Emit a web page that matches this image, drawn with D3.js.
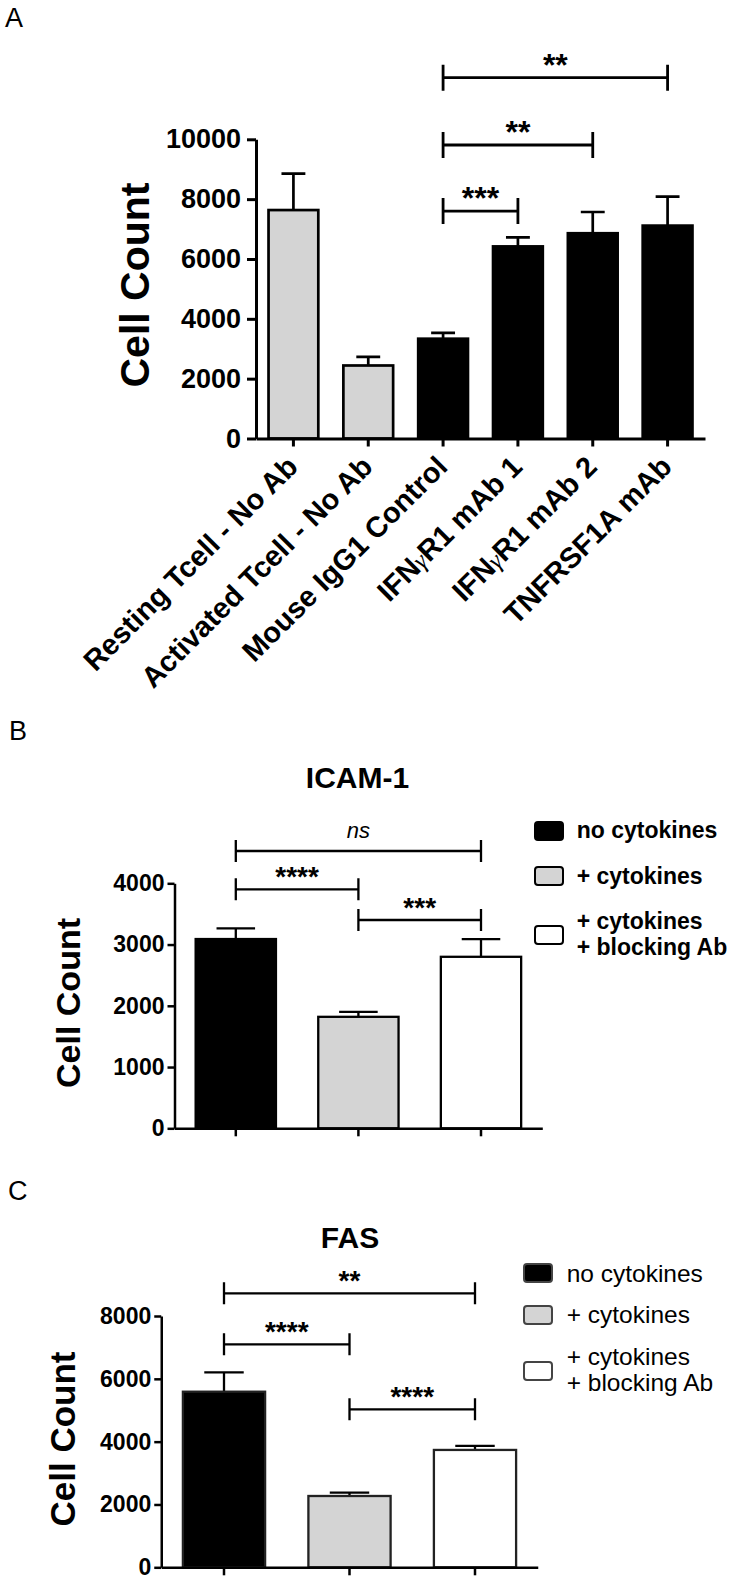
<!DOCTYPE html>
<html>
<head>
<meta charset="utf-8">
<script src="https://cdn.jsdelivr.net/npm/d3@7"></script>
<style>
  body { margin: 0; background: #fff; }
  svg { display: block; font-family: "Liberation Sans", Arial, sans-serif; }
</style>
</head>
<body>
<div id="chart"></div>
<script>
const width = 733;
const height = 1580;

// panel A - cell counts per treatment
const treatments = ["Resting Tcell - No Ab", "Activated Tcell - No Ab", "Mouse IgG1 Control",
  "IFNγR1 mAb 1", "IFNγR1 mAb 2", "TNFRSF1A mAb"];
const treatmentMeans = [7635, 2440, 3335, 6420, 6860, 7115];
const treatmentSem = [1220, 290, 195, 300, 710, 970];
const treatmentKind = ["noAb", "noAb", "ab", "ab", "ab", "ab"];
const treatmentTicks = [0, 2000, 4000, 6000, 8000, 10000];
const treatmentSig = [
  { from: 2, to: 5, label: "**", level: 12060 },
  { from: 2, to: 4, label: "**", level: 9810 },
  { from: 2, to: 3, label: "***", level: 7600 }
];

// panels B and C - cytokine conditions
const conditions = ["no cytokines", "+ cytokines", "+ cytokines\n+ blocking Ab"];

const icamMeans = [3090, 1820, 2800];
const icamSem = [174, 82, 289];
const icamTicks = [0, 1000, 2000, 3000, 4000];
const icamSig = [
  { from: 0, to: 2, label: "ns", level: 4527 },
  { from: 0, to: 1, label: "****", level: 3902 },
  { from: 1, to: 2, label: "***", level: 3401 }
];

const fasMeans = [5590, 2270, 3736];
const fasSem = [618, 105, 127];
const fasTicks = [0, 2000, 4000, 6000, 8000];
const fasSig = [
  { from: 0, to: 2, label: "**", level: 8723 },
  { from: 0, to: 1, label: "****", level: 7099 },
  { from: 1, to: 2, label: "****", level: 5030 }
];

const conditionFill = ["#000000", "#d4d4d4", "#ffffff"];
const kindFill = { noAb: "#d4d4d4", ab: "#000000" };

const svg = d3.select("#chart").append("svg")
  .attr("width", width)
  .attr("height", height);

function panelLetter(txt, x, y) {
  svg.append("text")
    .attr("x", x).attr("y", y)
    .attr("font-size", 27)
    .text(txt);
}

function styleAxis(g, sw, fs) {
  g.attr("font-family", null).attr("font-size", null);
  g.selectAll("path, line").attr("stroke", "#000").attr("stroke-width", sw);
  g.selectAll("text")
    .attr("fill", "#000")
    .style("font-size", fs + "px")
    .style("font-weight", "bold");
}

function yLabel(x, y, fs) {
  svg.append("text")
    .attr("transform", `translate(${x},${y}) rotate(-90)`)
    .attr("text-anchor", "middle")
    .attr("font-size", fs)
    .attr("font-weight", "bold")
    .text("Cell Count");
}

function drawBrackets(sig, xScale, cats, yScale, o) {
  const g = svg.append("g");
  const half = xScale.bandwidth() / 2;
  sig.forEach((s) => {
    const x1 = xScale(cats[s.from]) + half;
    const x2 = xScale(cats[s.to]) + half;
    const y = yScale(s.level);
    g.append("path")
      .attr("d", `M${x1},${y - o.tick}V${y + o.tick}M${x1},${y}H${x2}M${x2},${y - o.tick}V${y + o.tick}`)
      .attr("fill", "none")
      .attr("stroke", "#000")
      .attr("stroke-width", o.sw);
    const isNs = s.label === "ns";
    g.append("text")
      .attr("x", (x1 + x2) / 2)
      .attr("y", isNs ? y - 13 : y + o.starDy)
      .attr("text-anchor", "middle")
      .attr("font-size", isNs ? 22 : o.starSize)
      .attr("font-style", isNs ? "italic" : "normal")
      .attr("font-weight", isNs ? "normal" : "bold")
      .text(s.label);
  });
}

function drawBars(means, sem, cats, xScale, yScale, fills, o) {
  const bw = xScale.bandwidth() * o.frac;
  const off = (xScale.bandwidth() - bw) / 2;
  const g = svg.append("g");
  // error bars (upper only)
  g.selectAll(".err")
    .data(cats)
    .enter()
    .append("path")
    .attr("class", "err")
    .attr("d", (d, i) => {
      const cx = xScale(d) + xScale.bandwidth() / 2;
      const y0 = yScale(means[i]);
      const y1 = yScale(means[i] + sem[i]);
      const c = bw * 0.24;
      return `M${cx},${y0}V${y1}M${cx - c},${y1}H${cx + c}`;
    })
    .attr("fill", "none")
    .attr("stroke", "#000")
    .attr("stroke-width", o.sw);

  g.selectAll(".bar")
    .data(cats)
    .enter()
    .append("rect")
    .attr("class", "bar")
    .attr("x", (d) => xScale(d) + off)
    .attr("width", bw)
    .attr("y", (d, i) => yScale(means[i]))
    .attr("height", (d, i) => yScale(0) - yScale(means[i]))
    .attr("fill", (d, i) => fills[i])
    .attr("stroke", o.stroke)
    .attr("stroke-width", o.sw);
}

// ---------------- Panel A ----------------
panelLetter("A", 5, 27);

const xA = d3.scaleBand().domain(treatments).range([256, 705]);
const yA = d3.scaleLinear().domain([0, 10000]).range([438.5, 139.3]);

drawBars(treatmentMeans, treatmentSem, treatments, xA, yA,
  treatmentKind.map((k) => kindFill[k]), { frac: 0.665, sw: 2.7, stroke: "#000" });

const axAy = svg.append("g")
  .attr("transform", "translate(256,0)")
  .call(d3.axisLeft(yA).tickValues(treatmentTicks).tickSize(9).tickSizeOuter(0)
    .tickPadding(6).tickFormat(d3.format("d")));
styleAxis(axAy, 3, 27);

const axAx = svg.append("g")
  .attr("transform", `translate(0,${yA(0)})`)
  .call(d3.axisBottom(xA).tickSize(8).tickSizeOuter(0).tickFormat(""));
styleAxis(axAx, 3, 27);

// rotated category labels
const labA = svg.append("g");
treatments.forEach((t) => {
  const cx = xA(t) + xA.bandwidth() / 2;
  const txt = labA.append("text")
    .attr("transform", `translate(${cx + 6},${yA(0) + 30}) rotate(-45)`)
    .attr("text-anchor", "end")
    .attr("font-size", 29)
    .attr("font-weight", "bold");
  const parts = t.split("γ");
  if (parts.length > 1) {
    txt.append("tspan").text(parts[0]);
    txt.append("tspan")
      .attr("font-family", "'Liberation Serif', serif")
      .attr("font-weight", "normal")
      .attr("font-style", "italic")
      .attr("font-size", 25)
      .text("γ");
    txt.append("tspan").text(parts[1]);
  } else {
    txt.text(t);
  }
});

yLabel(149, 285, 41);

drawBrackets(treatmentSig, xA, treatments, yA, { tick: 13, sw: 2.8, starSize: 32, starDy: -2 });

// ---------------- Panels B and C ----------------
function cytokinePanel(p) {
  const x = d3.scaleBand().domain(conditions).range(p.xRange);
  const y = d3.scaleLinear().domain([0, p.ticks[p.ticks.length - 1]]).range(p.yRange);

  svg.append("text")
    .attr("x", p.titleX).attr("y", p.titleY)
    .attr("text-anchor", "middle")
    .attr("font-size", 30)
    .attr("font-weight", "bold")
    .text(p.title);

  drawBars(p.means, p.sem, conditions, x, y, conditionFill,
    { frac: 0.655, sw: 2.3, stroke: p.barStroke });

  const ay = svg.append("g")
    .attr("transform", `translate(${p.xRange[0]},0)`)
    .call(d3.axisLeft(y).tickValues(p.ticks).tickSize(7).tickSizeOuter(0)
      .tickPadding(3).tickFormat(d3.format("d")));
  styleAxis(ay, 2.5, 23);

  const ax = svg.append("g")
    .attr("transform", `translate(0,${y(0)})`)
    .call(d3.axisBottom(x).tickSize(8).tickSizeOuter(0).tickFormat(""));
  styleAxis(ax, 2.5, 23);

  yLabel(p.labelX, p.labelY, p.labelSize);

  drawBrackets(p.sig, x, conditions, y, { tick: 11, sw: 2.3, starSize: 28, starDy: -3 });

  // legend
  const lg = svg.append("g");
  conditions.forEach((c, i) => {
    lg.append("rect")
      .attr("x", p.legX).attr("y", p.legSwatchY[i])
      .attr("width", 28).attr("height", 18).attr("rx", 3)
      .attr("fill", conditionFill[i])
      .attr("stroke", p.legStroke)
      .attr("stroke-width", 2);
    const txt = lg.append("text")
      .attr("x", p.legTextX).attr("y", p.legTextY[i])
      .attr("font-size", p.legSize)
      .attr("font-weight", p.legWeight);
    c.split("\n").forEach((line, j) => {
      txt.append("tspan")
        .attr("x", p.legTextX)
        .attr("dy", j === 0 ? 0 : 25.7)
        .text(line);
    });
  });
}

panelLetter("B", 9, 740);
cytokinePanel({
  title: "ICAM-1", titleX: 357.5, titleY: 788.3,
  means: icamMeans, sem: icamSem, ticks: icamTicks, sig: icamSig,
  xRange: [174.5, 542.3], yRange: [1128.3, 883.3],
  barStroke: "#000",
  labelX: 80, labelY: 1003, labelSize: 34,
  legX: 535, legSwatchY: [822, 867, 926], legTextX: 576.7,
  legTextY: [838.3, 884, 929.3], legSize: 23, legWeight: "bold", legStroke: "#000"
});

panelLetter("C", 8, 1200);
cytokinePanel({
  title: "FAS", titleX: 350, titleY: 1248.3,
  means: fasMeans, sem: fasSem, ticks: fasTicks, sig: fasSig,
  xRange: [161.25, 537.75], yRange: [1567.3, 1316],
  barStroke: "#222",
  labelX: 75, labelY: 1439, labelSize: 35,
  legX: 524, legSwatchY: [1264, 1306, 1362], legTextX: 566.7,
  legTextY: [1281.7, 1323.3, 1365], legSize: 24.5, legWeight: "normal", legStroke: "#444"
});
</script>
</body>
</html>
